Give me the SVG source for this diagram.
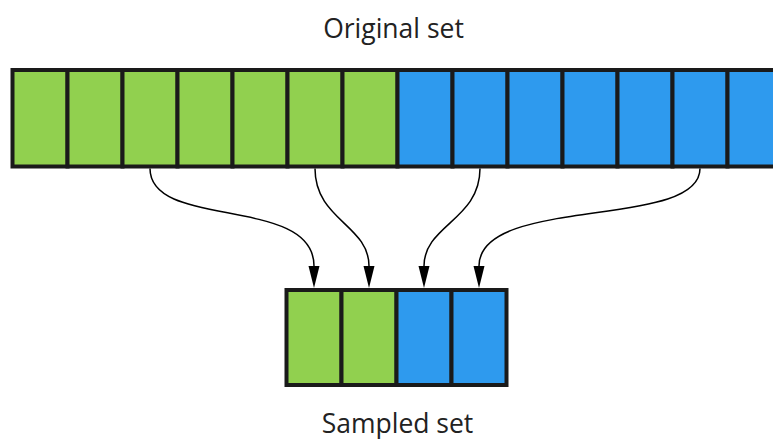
<svg xmlns="http://www.w3.org/2000/svg" width="773" height="439" viewBox="0 0 773 439">
<style>
.g{fill:#91D04F;stroke:#1a1a1a;stroke-width:4}
.b{fill:#2E9AEE;stroke:#1a1a1a;stroke-width:4}
.lbl{font-family:"Open Sans",sans-serif;font-size:26.5px;fill:#222;text-anchor:middle}
.e{fill:none;stroke:#000;stroke-width:1.5}
</style>
<defs>
<marker id="ah" markerUnits="userSpaceOnUse" markerWidth="24" markerHeight="12" refX="0" refY="5.5" orient="auto" overflow="visible">
<path d="M0,0 L22,5.5 L0,11 z" fill="#000"/>
</marker>
</defs>
<g id="original">
<rect class="g" x="12.5" y="70" width="55" height="96.5"/>
<rect class="g" x="67.5" y="70" width="55" height="96.5"/>
<rect class="g" x="122.5" y="70" width="55" height="96.5"/>
<rect class="g" x="177.5" y="70" width="55" height="96.5"/>
<rect class="g" x="232.5" y="70" width="55" height="96.5"/>
<rect class="g" x="287.5" y="70" width="55" height="96.5"/>
<rect class="g" x="342.5" y="70" width="55" height="96.5"/>
<rect class="b" x="397.5" y="70" width="55" height="96.5"/>
<rect class="b" x="452.5" y="70" width="55" height="96.5"/>
<rect class="b" x="507.5" y="70" width="55" height="96.5"/>
<rect class="b" x="562.5" y="70" width="55" height="96.5"/>
<rect class="b" x="617.5" y="70" width="55" height="96.5"/>
<rect class="b" x="672.5" y="70" width="55" height="96.5"/>
<rect class="b" x="727.5" y="70" width="55" height="96.5"/>
</g>
<g id="sampled">
<rect class="g" x="286.5" y="290" width="55" height="95"/>
<rect class="g" x="341.5" y="290" width="55" height="95"/>
<rect class="b" x="396.5" y="290" width="55" height="95"/>
<rect class="b" x="451.5" y="290" width="55" height="95"/>
</g>
<g id="label-original"><text class="lbl" x="393.5" y="37.5">Original set</text></g>
<g id="label-sampled"><text class="lbl" x="397.5" y="432.5">Sampled set</text></g>
<g id="connectors">
<path class="e" marker-end="url(#ah)" d="M150,168.5 C150,230 314,195 314,266"/>
<path class="e" marker-end="url(#ah)" d="M315,168.5 C315,220 369,225 369,266"/>
<path class="e" marker-end="url(#ah)" d="M480,168.5 C480,220 424,225 424,266"/>
<path class="e" marker-end="url(#ah)" d="M700,168.5 C700,230 479,195 479,266"/>
</g>
</svg>
